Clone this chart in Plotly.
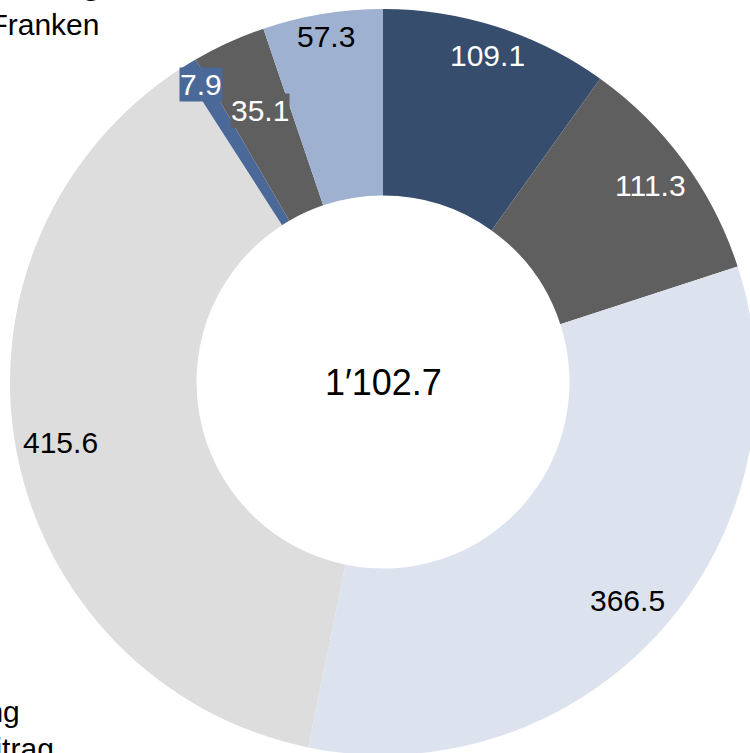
import math
import plotly.graph_objects as go

# Slices, clockwise from 12 o'clock
labels = ["A", "B", "C", "D", "E", "F", "G"]
values = [109.1, 111.3, 366.5, 415.6, 7.9, 35.1, 57.3]
total_text = "1\u2032102.7"

colors = ["#364d6e", "#5f5f5f", "#dde3ee", "#dddddd", "#4a6898", "#5f5f5f", "#9eb1d0"]
text_colors = ["white", "white", "black", "black", "white", "white", "black"]
label_bg = [None, None, None, None, "#4a6898", "#5f5f5f", None]
# radial position of each label, as a share of the outer radius
label_r = [0.92, 0.89, 0.88, 0.88, 0.935, 0.80, 0.94]

# the reference is a crop: the ring runs a few px past the right/bottom edge
W, H = 756, 755
ML, MT, MR, MB = 10, 9, 0, 0
pw, ph = W - ML - MR, H - MT - MB
cx, cy = ML + pw / 2, MT + ph / 2
R = min(pw, ph) / 2
FONT = "Liberation Sans, Arial"

fig = go.Figure(go.Pie(
    labels=labels,
    values=values,
    hole=0.5,
    sort=False,
    direction="clockwise",
    rotation=0,
    marker=dict(colors=colors, line=dict(width=0)),
    textinfo="none",
    hoverinfo="label+value",
    showlegend=False,
))

annotations = []
total = sum(values)
start = 0
for v, tc, bg, rf in zip(values, text_colors, label_bg, label_r):
    mid = (start + v / 2) / total * 2 * math.pi
    start += v
    x_px = cx + rf * R * math.sin(mid)
    y_px = cy - rf * R * math.cos(mid)
    a = dict(
        x=(x_px - ML) / pw, y=1 - (y_px - MT) / ph, xref="paper", yref="paper",
        xanchor="center", yanchor="middle",
        text=f"{v:.1f}", showarrow=False,
        font=dict(size=30, color=tc, family=FONT),
    )
    if bg:
        a["bgcolor"] = bg
        a["borderpad"] = 0
    annotations.append(a)

annotations.append(dict(
    x=0.5, y=0.5, xref="paper", yref="paper", xanchor="center", yanchor="middle",
    text=total_text, showarrow=False,
    font=dict(size=36, color="black", family=FONT),
))

# fragments of title and legend that are cut off by the frame (page px)
def px_note(text, x_right, y_mid, bold=False):
    return dict(
        x=(x_right - ML) / pw, y=1 - (y_mid - MT) / ph,
        xref="paper", yref="paper",
        xanchor="right", yanchor="middle", showarrow=False,
        text=f"<b>{text}</b>" if bold else text,
        font=dict(size=30, color="black", family=FONT),
    )

annotations.append(px_note("Finanzierung", 103, -15, bold=True))
annotations.append(px_note("in Millionen Franken", 101, 24))
annotations.append(px_note("Rückerstattung", 22, 711))
annotations.append(px_note("Kantonsbeitrag", 56, 748))

fig.update_layout(
    width=W, height=H,
    margin=dict(l=ML, r=MR, t=MT, b=MB),
    paper_bgcolor="white",
    plot_bgcolor="white",
    annotations=annotations,
)

fig.write_html(
    "out.html",
    config={"displayModeBar": False},
    post_script="document.body.style.margin='0';document.body.style.overflow='hidden';",
)
